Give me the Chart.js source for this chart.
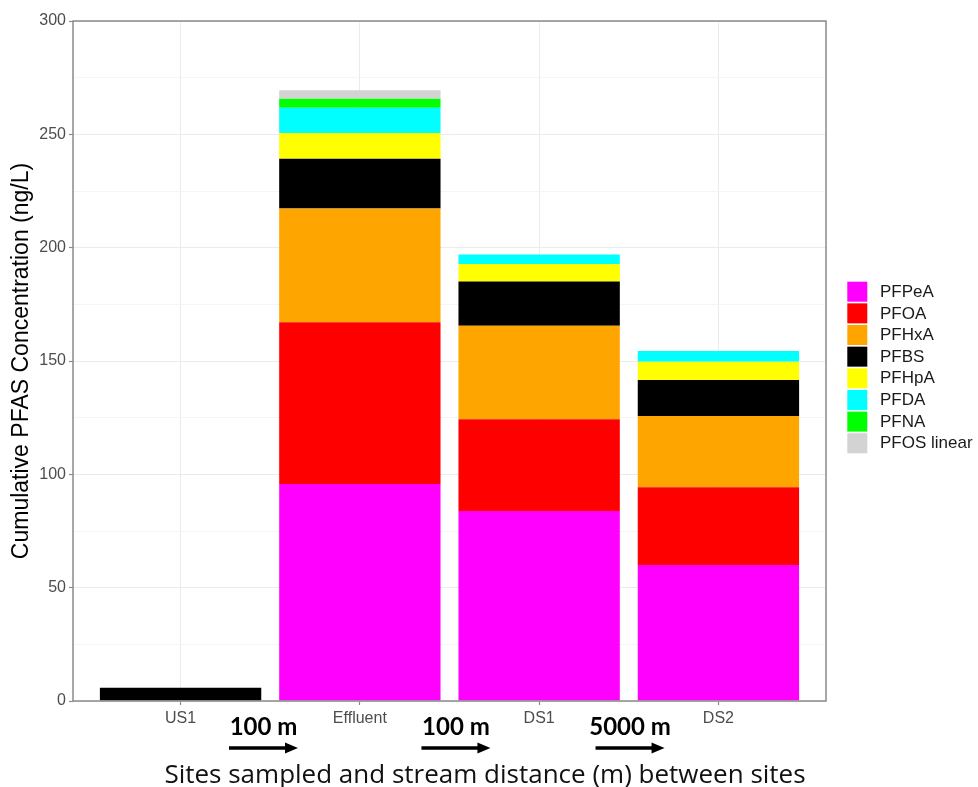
<!DOCTYPE html>
<html>
<head>
<meta charset="utf-8">
<script src="https://cdn.jsdelivr.net/npm/chart.js@4/dist/chart.umd.min.js"></script>
<style>
  html, body { margin: 0; padding: 0; background: #ffffff; }
  #wrap { position: relative; width: 978px; height: 787px; }
</style>
</head>
<body>
<div id="wrap"><canvas id="c" width="978" height="787"></canvas></div>
<script>
// ---- Data ----
const categories = ['US1', 'Effluent', 'DS1', 'DS2'];
const PFPeA      = [0,   95.7, 83.8, 60.0];
const PFOA       = [0,   71.4, 40.5, 34.3];
const PFHxA      = [0,   50.2, 41.3, 31.4];
const PFBS       = [5.9, 21.9, 19.5, 15.9];
const PFHpA      = [0,   11.4,  7.7,  8.1];
const PFDA       = [0,   11.1,  4.2,  4.7];
const PFNA       = [0,    4.0,  0,    0];
const PFOSlinear = [0,    3.8,  0,    0];
const seriesNames = ['PFPeA', 'PFOA', 'PFHxA', 'PFBS', 'PFHpA', 'PFDA', 'PFNA', 'PFOS linear'];
const seriesValues = [PFPeA, PFOA, PFHxA, PFBS, PFHpA, PFDA, PFNA, PFOSlinear];
const yTickLabels = [0, 50, 100, 150, 200, 250, 300];
const distanceLabels = ['100 m', '100 m', '5000 m'];
const yTitle = 'Cumulative PFAS Concentration (ng/L)';
const xTitle = 'Sites sampled and stream distance (m) between sites';

// ---- Styles ----
const seriesColors = ['#FF00FF', '#FF0000', '#FFA500', '#000000', '#FFFF00', '#00FFFF', '#00FF00', '#D3D3D3'];
const AX_FONT = "'Liberation Sans', Arial, sans-serif";
const ANNOT_FONT = "Lato, 'Open Sans', sans-serif";
const TITLE_FONT = "'Open Sans', Lato, sans-serif";
const BORDER = '#8a8a8a';

const datasets = seriesNames.map((name, k) => ({
  label: name,
  data: seriesValues[k].map((v, i) => ({ x: i + 1, y: v })),
  backgroundColor: seriesColors[k],
  borderWidth: 0,
  grouped: false,
  categoryPercentage: 1.0,
  barPercentage: 0.9
}));

const frameAndNotes = {
  id: 'frameAndNotes',
  afterDatasetsDraw(chart) {
    const { ctx, chartArea: a, scales: { x } } = chart;
    ctx.save();
    // panel border
    ctx.strokeStyle = BORDER;
    ctx.lineWidth = 1.5;
    ctx.strokeRect(a.left, a.top, a.right - a.left, a.bottom - a.top);

    // distance annotations between sites
    const arrowCenters = [1.4625, 2.536, 3.507];
    ctx.fillStyle = '#000';
    ctx.strokeStyle = '#000';
    ctx.textAlign = 'center';
    ctx.textBaseline = 'alphabetic';
    ctx.font = "bold 24px " + ANNOT_FONT;
    distanceLabels.forEach((lab, i) => {
      const cx = x.getPixelForValue(arrowCenters[i]);
      ctx.fillText(lab, cx, 735);
      const x0 = cx - 34.5, x1 = cx + 34.5, y = 748;
      ctx.lineWidth = 3.5;
      ctx.beginPath();
      ctx.moveTo(x0, y);
      ctx.lineTo(x1 - 10, y);
      ctx.stroke();
      ctx.beginPath();
      ctx.moveTo(x1, y);
      ctx.lineTo(x1 - 13, y - 5.5);
      ctx.lineTo(x1 - 13, y + 5.5);
      ctx.closePath();
      ctx.fill();
    });

    // x-axis title
    ctx.font = "26px " + TITLE_FONT;
    ctx.fillStyle = '#111';
    ctx.fillText(xTitle, 485, 783);

    // legend
    ctx.textAlign = 'left';
    ctx.textBaseline = 'middle';
    ctx.font = "17px " + AX_FONT;
    chart.data.datasets.forEach((ds, k) => {
      const top = 281.7 + k * 21.65;
      ctx.fillStyle = ds.backgroundColor;
      ctx.fillRect(847.3, top, 20, 20);
      ctx.fillStyle = '#1a1a1a';
      ctx.fillText(ds.label, 880, top + 10.5);
    });
    ctx.restore();
  }
};

new Chart(document.getElementById('c'), {
  type: 'bar',
  data: { datasets },
  options: {
    responsive: false,
    animation: false,
    devicePixelRatio: 1,
    layout: { padding: { left: 0, right: 152, top: 21, bottom: 0 } },
    plugins: {
      legend: { display: false },
      tooltip: { enabled: false },
      title: { display: false }
    },
    scales: {
      x: {
        type: 'linear',
        offset: false,
        min: 0.4,
        max: 4.6,
        afterBuildTicks: (s) => { s.ticks = categories.map((c, i) => ({ value: i + 1 })); },
        afterFit: (s) => { s.height = 86; },
        ticks: {
          autoSkip: false,
          maxRotation: 0,
          padding: 4,
          color: '#4d4d4d',
          font: { family: AX_FONT, size: 16 },
          callback: (v) => categories[Math.round(v) - 1]
        },
        grid: {
          offset: false,
          color: '#ebebeb',
          lineWidth: 1,
          drawTicks: true,
          tickLength: 4,
          tickColor: BORDER,
          tickWidth: 1.2
        },
        border: { display: false }
      },
      y: {
        stacked: true,
        min: 0,
        max: 300,
        afterBuildTicks: (s) => {
          const t = [];
          for (let i = 0; i < yTickLabels.length; i++) {
            t.push({ value: yTickLabels[i] });
            if (i < yTickLabels.length - 1) t.push({ value: (yTickLabels[i] + yTickLabels[i + 1]) / 2, minor: true });
          }
          s.ticks = t;
        },
        afterFit: (s) => { s.width = 73; },
        ticks: {
          autoSkip: false,
          padding: 3,
          color: '#4d4d4d',
          font: { family: AX_FONT, size: 16 },
          callback: (v) => (yTickLabels.includes(v) ? String(v) : '')
        },
        grid: {
          color: (c) => (c.tick && yTickLabels.includes(c.tick.value) ? '#ebebeb' : '#f5f5f5'),
          lineWidth: 1,
          drawTicks: true,
          tickLength: 4,
          tickColor: (c) => (c.tick && yTickLabels.includes(c.tick.value) ? BORDER : 'rgba(0,0,0,0)'),
          tickWidth: 1.2
        },
        border: { display: false },
        title: {
          display: true,
          text: yTitle,
          color: '#000',
          font: { family: AX_FONT, size: 23 },
          padding: { top: 8, bottom: 0 }
        }
      }
    }
  },
  plugins: [frameAndNotes]
});
</script>
</body>
</html>
